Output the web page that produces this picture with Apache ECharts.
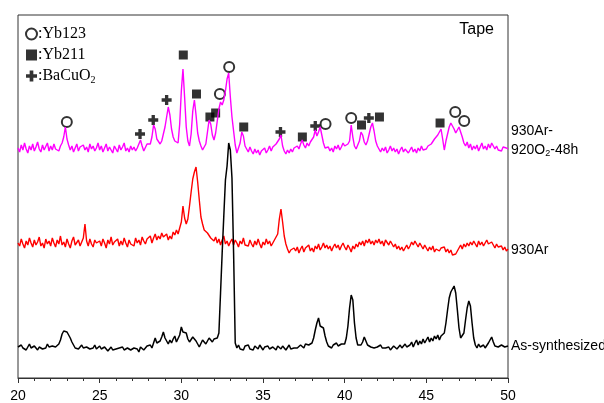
<!DOCTYPE html>
<html>
<head>
<meta charset="utf-8">
<script src="https://cdn.jsdelivr.net/npm/echarts@6/dist/echarts.min.js"></script>
<style>
html,body{margin:0;padding:0;background:#fff;}
#chart{width:604px;height:403px;}
</style>
</head>
<body>
<div id="chart"></div>
<script>
// 2theta grid of the scans: 20.0 .. 50.0, step 0.1 deg
var startAngle = 20, stepAngle = 0.1;

// intensities (a.u.), one row per degree
var asSynthesized = [
  31,29,33,30,32,28,31,34,30,29,
  32,30,28,31,33,29,31,30,34,31,
  29,32,30,31,33,34,38,44,47,48,
  46,45,40,36,33,30,32,29,31,33,
  30,28,31,32,29,31,30,33,29,30,
  32,29,28,31,30,27,29,31,28,30,
  29,27,30,28,31,28,27,30,29,28,
  27,30,28,29,26,31,29,28,30,32,
  31,33,30,35,40,35,33,37,41,46,
  40,37,34,38,35,39,42,36,38,43,
  51,46,44,45,39,36,38,41,40,37,
  34,31,33,38,36,34,37,40,38,36,
  39,37,40,45,85,125,162,198,212,235,
  228,200,125,35,30,33,29,31,28,32,
  30,33,29,31,28,32,30,29,33,31,
  28,31,30,32,29,27,31,30,28,32,
  30,29,32,31,28,30,33,29,31,30,
  32,30,29,33,31,30,34,32,33,35,
  35,40,48,55,60,52,53,50,42,36,
  32,34,30,33,31,35,32,30,34,33,
  34,40,52,70,83,78,55,40,33,31,
  33,36,41,37,33,35,31,33,30,32,
  31,29,33,30,32,30,29,31,28,30,
  32,30,29,31,33,30,32,34,31,33,
  33,36,31,35,38,33,37,34,39,35,
  38,41,36,40,37,42,39,43,38,42,
  40,45,55,68,80,86,84,92,85,68,
  50,40,38,45,58,70,77,72,55,40,
  33,30,34,31,29,33,30,32,35,38,
  41,36,32,34,31,30,33,35,31,33,
  32
];
var ar930 = [
  31,28,35,30,26,33,29,36,31,27,
  34,29,32,37,28,31,26,35,30,33,
  28,36,31,27,34,30,38,29,32,27,
  35,30,26,33,37,29,31,34,28,32,
  36,50,33,28,35,30,27,34,31,29,
  33,28,35,31,26,34,30,37,29,32,
  30,35,28,33,29,36,31,27,34,30,
  32,28,36,31,34,29,37,33,30,35,
  33,38,31,36,40,34,38,35,41,37,
  36,40,34,38,35,42,39,44,40,46,
  52,68,56,50,55,68,82,95,102,107,
  92,74,57,50,44,46,41,39,36,38,
  33,37,31,35,29,34,38,30,33,28,
  32,35,29,34,31,27,33,30,36,29,
  31,28,34,30,27,33,29,35,30,26,
  32,29,35,30,33,28,31,34,33,40,
  55,65,52,38,30,25,21,24,22,26,
  23,27,21,25,28,22,26,24,29,23,
  26,22,28,25,30,24,27,31,26,29,
  25,28,23,27,30,26,29,24,28,31,
  27,24,29,26,22,28,25,30,27,32,
  29,33,28,34,31,35,30,33,29,34,
  31,35,30,33,28,34,32,29,33,30,
  27,30,25,28,24,27,23,26,29,25,
  28,32,29,33,30,27,31,28,25,29,
  26,23,27,24,28,22,25,27,23,26,
  24,27,22,25,21,24,19,17,20,23,
  26,29,25,30,27,31,28,32,29,33,
  30,27,33,29,32,28,31,34,30,28,
  32,29,26,30,27,25,28,24,27,23,
  25
];
var ar930o2 = [
  31,27,34,29,36,30,26,33,29,35,
  28,32,37,30,27,34,29,31,36,28,
  33,29,35,30,32,28,33,36,42,52,
  40,34,29,33,27,31,35,28,32,30,
  34,29,32,27,35,30,33,28,31,36,
  29,33,27,31,35,28,32,30,26,33,
  30,27,34,29,32,36,28,31,27,33,
  29,32,28,31,35,39,33,28,30,35,
  33,35,42,54,50,40,38,35,38,45,
  52,62,72,64,50,42,38,37,36,55,
  88,110,82,52,38,33,45,68,79,64,
  46,38,33,29,27,35,47,59,55,44,
  39,46,58,70,77,74,79,88,100,106,
  82,62,48,34,26,25,36,47,43,33,
  30,27,32,28,25,30,26,29,24,28,
  27,31,26,29,33,28,32,30,35,37,
  40,44,33,28,25,29,26,30,27,31,
  29,33,30,35,39,34,31,36,33,37,
  35,42,49,43,47,52,44,36,31,29,
  32,28,31,27,33,30,34,29,32,36,
  33,31,35,38,54,42,33,30,32,38,
  47,44,37,34,38,45,52,56,48,38,
  33,30,27,31,28,32,26,29,33,28,
  31,27,30,25,29,32,27,30,28,26,
  29,32,27,30,26,31,28,33,29,31,
  30,33,31,35,36,40,38,44,46,50,
  40,29,38,45,52,56,58,50,46,48,
  52,53,42,36,33,37,31,35,29,33,
  30,34,28,32,36,30,33,29,35,31,
  36,34,30,33,29,31,28,32,30,31,
  30
];

// stacking shifts of the upper scans
var ar930Shift = 104;
var ar930o2Shift = 199;

// phase marks on the top scan: [2theta, intensity]
var yb123Marks = [[22.99,57],[32.36,85],[32.93,112],[38.83,55],[40.40,61],[46.77,67],[47.32,58]];
var yb211Marks = [[30.12,124],[30.93,85],[31.75,62],[32.10,66],[33.82,52],[37.41,42],[41.03,54],[42.13,62],[45.84,56]];
var bacuo2Marks = [[27.47,45],[28.28,59],[29.10,79],[36.07,47],[38.20,53],[41.48,61]];

var xTicks = [20, 25, 30, 35, 40, 45, 50];

function toPairs(values, shift){
    var out = [];
    for(var i = 0;i<values.length;i++){
        out.push([+(startAngle + i*stepAngle).toFixed(1), values[i] + shift]);
    }
    return out;
}
function shiftMarks(marks, shift){
    return marks.map(function(m){ return [m[0], m[1] + shift]; });
}

var sansFont = '"Liberation Sans", Arial, sans-serif';
var serifFont = '"Liberation Serif", "Times New Roman", serif';
var plusPath = 'path://M3,0h3v3h3v3h-3v3h-3v-3h-3v-3h3z';

function lineSeries(name, data, color, width, label, labelOffset){
    return {
        name: name,
        type: 'line',
        data: data,
        showSymbol: false,
        symbol: 'none',
        silent: true,
        lineStyle: {color: color, width: width},
        endLabel: {
            show: true,
            formatter: label,
            distance: 3,
            offset: labelOffset,
            color: '#000',
            fontFamily: sansFont,
            fontSize: 14,
            lineHeight: 19,
            rich: {
                a: {fontFamily: sansFont, fontSize: 14, color: '#000', lineHeight: 19},
                s: {fontFamily: sansFont, fontSize: 9, color: '#000', padding: [7, 0, 0, 0]}
            }
        }
    };
}

var chart = echarts.init(document.getElementById('chart'), null, {renderer: 'canvas'});
var option = {
    animation: false,
    backgroundColor: '#fff',
    title: {
        text: 'Tape',
        right: 105,
        top: 17,
        textStyle: {fontFamily: sansFont, fontSize: 16, fontWeight: 'normal', color: '#000'}
    },
    legend: {
        data: ['Yb123', 'Yb211', 'BaCuO2'],
        orient: 'vertical',
        left: 20,
        top: 21,
        itemWidth: 11,
        itemHeight: 11,
        itemGap: 5,
        selectedMode: false,
        formatter: function(name){
            if(name === 'BaCuO2') return ':BaCuO{s|2}';
            return ':' + name;
        },
        textStyle: {
            fontFamily: serifFont,
            fontSize: 16,
            color: '#000',
            padding: [0, 0, 0, -4],
            rich: {s: {fontFamily: serifFont, fontSize: 10, color: '#000', padding: [9, 0, 0, 0]}}
        }
    },
    grid: {
        left: 18, right: 96, top: 15, bottom: 25,
        show: true, borderColor: '#333', borderWidth: 1, backgroundColor: 'transparent'
    },
    xAxis: {
        type: 'value',
        min: 20,
        max: 50,
        interval: 5,
        axisLine: {lineStyle: {color: '#333', width: 1}},
        axisTick: {show: true, length: 5, lineStyle: {color: '#333'}},
        minorTick: {show: true, splitNumber: 5, length: 3, lineStyle: {color: '#333'}},
        splitLine: {show: false},
        axisLabel: {
            margin: 11,
            fontFamily: sansFont,
            fontSize: 14,
            color: '#000',
            formatter: function(v){ return xTicks.indexOf(v) >= 0 ? String(v) : ''; }
        }
    },
    yAxis: {
        type: 'value',
        min: 0,
        max: 363,
        show: false,
        splitLine: {show: false}
    },
    series: [
        lineSeries('930Ar-920O2-48h', toPairs(ar930o2, ar930o2Shift), '#ff00ff', 1.4,
            '{a|930Ar-}\n{a|920O}{s|2}{a|-48h}', [0, -8]),
        lineSeries('930Ar', toPairs(ar930, ar930Shift), '#ff0000', 1.4, '{a|930Ar}', [0, 1]),
        lineSeries('As-synthesized', toPairs(asSynthesized, 0), '#000000', 1.5, '{a|As-synthesized}', [0, 0]),
        {
            name: 'Yb123', type: 'scatter', symbol: 'emptyCircle', symbolSize: 10,
            data: shiftMarks(yb123Marks, ar930o2Shift),
            itemStyle: {color: '#000', borderColor: '#000', borderWidth: 0.8}
        },
        {
            name: 'Yb211', type: 'scatter', symbol: 'rect', symbolSize: 9,
            data: shiftMarks(yb211Marks, ar930o2Shift),
            itemStyle: {color: '#000'}
        },
        {
            name: 'BaCuO2', type: 'scatter', symbol: plusPath, symbolSize: 10,
            data: shiftMarks(bacuo2Marks, ar930o2Shift),
            itemStyle: {color: '#000'}
        }
    ]
};
chart.setOption(option);
</script>
</body>
</html>
